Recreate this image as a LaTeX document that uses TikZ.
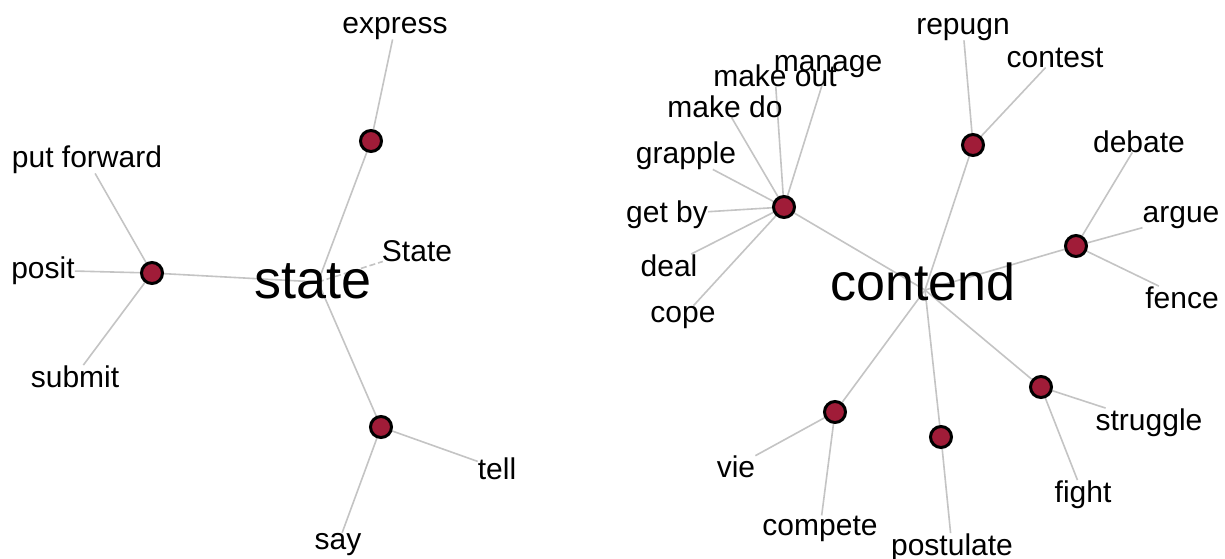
\documentclass[tikz,border=0pt]{standalone}
\usepackage{fontspec}
\setmainfont{Liberation Sans}
\pgfdeclarelayer{background}
\pgfsetlayers{background,main}
\definecolor{dotred}{RGB}{160,28,56}
\definecolor{linkgray}{RGB}{196,196,196}
\begin{document}
\begin{tikzpicture}[x=1pt,y=-1pt,
  word/.style={anchor=base,font=\fontsize{30}{30}\selectfont,inner sep=0pt},
  headword/.style={anchor=base,font=\fontsize{#1}{#1}\selectfont,inner sep=0pt},
  headword/.default=52,
  sense/.style={circle,draw=black,line width=3pt,fill=dotred,minimum size=21pt,inner sep=0pt},
  link/.style={draw=linkgray,line width=1.6pt},
  seealso/.style={link,dashed,dash pattern=on 6pt off 3pt}]
\useasboundingbox (0,0) rectangle (1225,558);

% ---- state ----
\coordinate (sHub) at (318,282);
\node[headword=54] (state) at (313,298) {state};
\node[sense] (s1) at (371,141) {};
\node[sense] (s2) at (152,273) {};
\node[sense] (s3) at (381,427) {};
\node[word] (express) at (395,33) {express};
\node[word] (putforward) at (87,167) {put forward};
\node[word] (posit) at (43,278) {posit};
\node[word] (submit) at (75,387) {submit};
\node[word] (State) at (417,261) {State};
\node[word] (tell) at (497,479) {tell};
\node[word] (say) at (338,549) {say};

% ---- contend ----
\coordinate (cHub) at (925,290);
\node[headword] (contend) at (923,300) {contend};
\node[sense] (c1) at (784,207) {};
\node[sense] (c2) at (973,145) {};
\node[sense] (c3) at (1076,246) {};
\node[sense] (c4) at (1041,387) {};
\node[sense] (c5) at (941,437) {};
\node[sense] (c6) at (835,412) {};
\node[word] (repugn) at (963,34) {repugn};
\node[word] (contest) at (1055,67) {contest};
\node[word] (manage) at (828,71) {manage};
\node[word] (makeout) at (775,86) {make out};
\node[word] (makedo) at (725,117) {make do};
\node[word] (grapple) at (686,163) {grapple};
\node[word] (getby) at (667,222) {get by};
\node[word] (deal) at (669,276) {deal};
\node[word] (cope) at (683,322) {cope};
\node[word] (debate) at (1139,152) {debate};
\node[word] (argue) at (1181,222) {argue};
\node[word] (fence) at (1182,308) {fence};
\node[word] (struggle) at (1149,430) {struggle};
\node[word] (fight) at (1083,502) {fight};
\node[word] (postulate) at (952,555) {postulate};
\node[word] (compete) at (820,535) {compete};
\node[word] (vie) at (736,477) {vie};

\begin{pgfonlayer}{background}
  \fill[white] (0,0) rectangle (1225,558);
  % links of state
  \foreach \n in {s1,s2,s3} \draw[link] (sHub) -- (\n);
  \draw[seealso] (sHub) -- (State);
  \draw[link] (s1) -- (express);
  \foreach \w in {putforward,posit,submit} \draw[link] (s2) -- (\w);
  \foreach \w in {tell,say} \draw[link] (s3) -- (\w);
  % links of contend
  \foreach \n in {c1,c2,c3,c4,c5,c6} \draw[link] (cHub) -- (\n);
  \foreach \w in {manage,makeout,makedo,grapple,getby,deal,cope} \draw[link] (c1) -- (\w);
  \foreach \w in {repugn,contest} \draw[link] (c2) -- (\w);
  \foreach \w in {debate,argue,fence} \draw[link] (c3) -- (\w);
  \foreach \w in {struggle,fight} \draw[link] (c4) -- (\w);
  \draw[link] (c5) -- (postulate);
  \foreach \w in {vie,compete} \draw[link] (c6) -- (\w);
\end{pgfonlayer}
\end{tikzpicture}
\end{document}
